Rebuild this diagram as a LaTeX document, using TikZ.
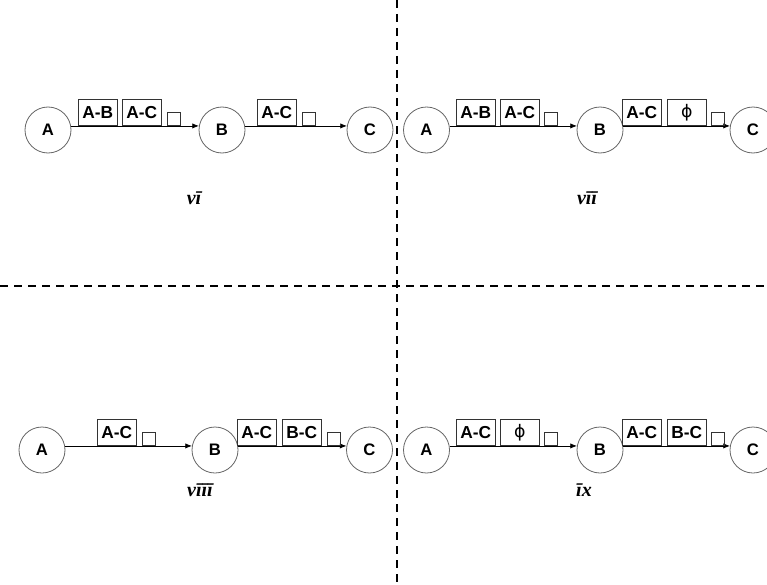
\documentclass[tikz,border=0pt]{standalone}
\usepackage{fontspec}
\setmainfont{Liberation Sans}
\newfontfamily\casefont{Liberation Serif}
\newfontfamily\symfont{DejaVu Sans}
\usetikzlibrary{arrows.meta}

\begin{document}
\begin{tikzpicture}[
    x=0.75pt, y=-0.75pt,
    station/.style={circle, draw=black!60, minimum size=34.5pt, inner sep=0pt,
      font=\fontsize{12.5}{12.5}\selectfont\bfseries},
    msg/.style={draw=black!80, minimum width=29pt, minimum height=19.5pt,
      inner sep=0pt, anchor=south west, font=\fontsize{13}{13}\selectfont\bfseries},
    slot/.style={draw=black!80, minimum size=9.75pt, inner sep=0pt, anchor=south west},
    link/.style={-{Latex[length=5pt,width=4pt]}},
    divider/.style={line width=1.6pt, dash pattern=on 6pt off 4.5pt},
    case/.style={font=\casefont\fontsize{15}{15}\selectfont\bfseries\itshape},
  line width=0.6pt]
  \useasboundingbox (0,0) rectangle (767,585);

  % dividers
  \coordinate (top) at (397,0);
  \coordinate (bottom) at (397,585);
  \coordinate (left) at (0,286);
  \coordinate (right) at (767,286);
  \draw[divider] (top) -- (bottom);
  \draw[divider] (left) -- (right);

  % vi
  \node[station] (vi-A) at (48,130) {A};
  \node[station] (vi-B) at (222,130) {B};
  \node[station] (vi-C) at (370,130) {C};
  \draw[link] (vi-A.10) -- (vi-B.170);
  \draw[link] (vi-B.10) -- (vi-C.170);
  \foreach \x/\t in {78/A-B, 122/A-C, 257/A-C}
    \node[msg] (vi-m\x) at (\x,126) {\t};
  \foreach \x in {167, 302}
    \node[slot] (vi-s\x) at (\x,126) {};
  \node[case] (vi-label) at (194,198) {v\=\i};

  % vii
  \node[station] (vii-A) at (426.5,130) {A};
  \node[station] (vii-B) at (600,130) {B};
  \node[station] (vii-C) at (753,130) {C};
  \draw[link] (vii-A.10) -- (vii-B.170);
  \draw[link] (vii-B.10) -- (vii-C.170);
  \foreach \x/\t in {456/A-B, 500/A-C, 622/A-C, 667/{\symfont\mdseries ϕ}}
    \node[msg] (vii-m\x) at (\x,126) {\t};
  \foreach \x in {544, 711}
    \node[slot] (vii-s\x) at (\x,126) {};
  \node[case] (vii-label) at (587,198) {v\=\i\=\i};

  % viii
  \node[station] (viii-A) at (42,450) {A};
  \node[station] (viii-B) at (215,450) {B};
  \node[station] (viii-C) at (369.5,450) {C};
  \draw[link] (viii-A.10) -- (viii-B.170);
  \draw[link] (viii-B.10) -- (viii-C.170);
  \foreach \x/\t in {97/A-C, 237/A-C, 282/B-C}
    \node[msg] (viii-m\x) at (\x,446) {\t};
  \foreach \x in {142, 327}
    \node[slot] (viii-s\x) at (\x,446) {};
  \node[case] (viii-label) at (200,490) {v\=\i\=\i\=\i};

  % ix
  \node[station] (ix-A) at (426.5,450) {A};
  \node[station] (ix-B) at (600,450) {B};
  \node[station] (ix-C) at (753,450) {C};
  \draw[link] (ix-A.10) -- (ix-B.170);
  \draw[link] (ix-B.10) -- (ix-C.170);
  \foreach \x/\t in {456/A-C, 500/{\symfont\mdseries ϕ}, 622/A-C, 667/B-C}
    \node[msg] (ix-m\x) at (\x,446) {\t};
  \foreach \x in {544, 711}
    \node[slot] (ix-s\x) at (\x,446) {};
  \node[case] (ix-label) at (584,490) {\=\i x};
\end{tikzpicture}
\end{document}
